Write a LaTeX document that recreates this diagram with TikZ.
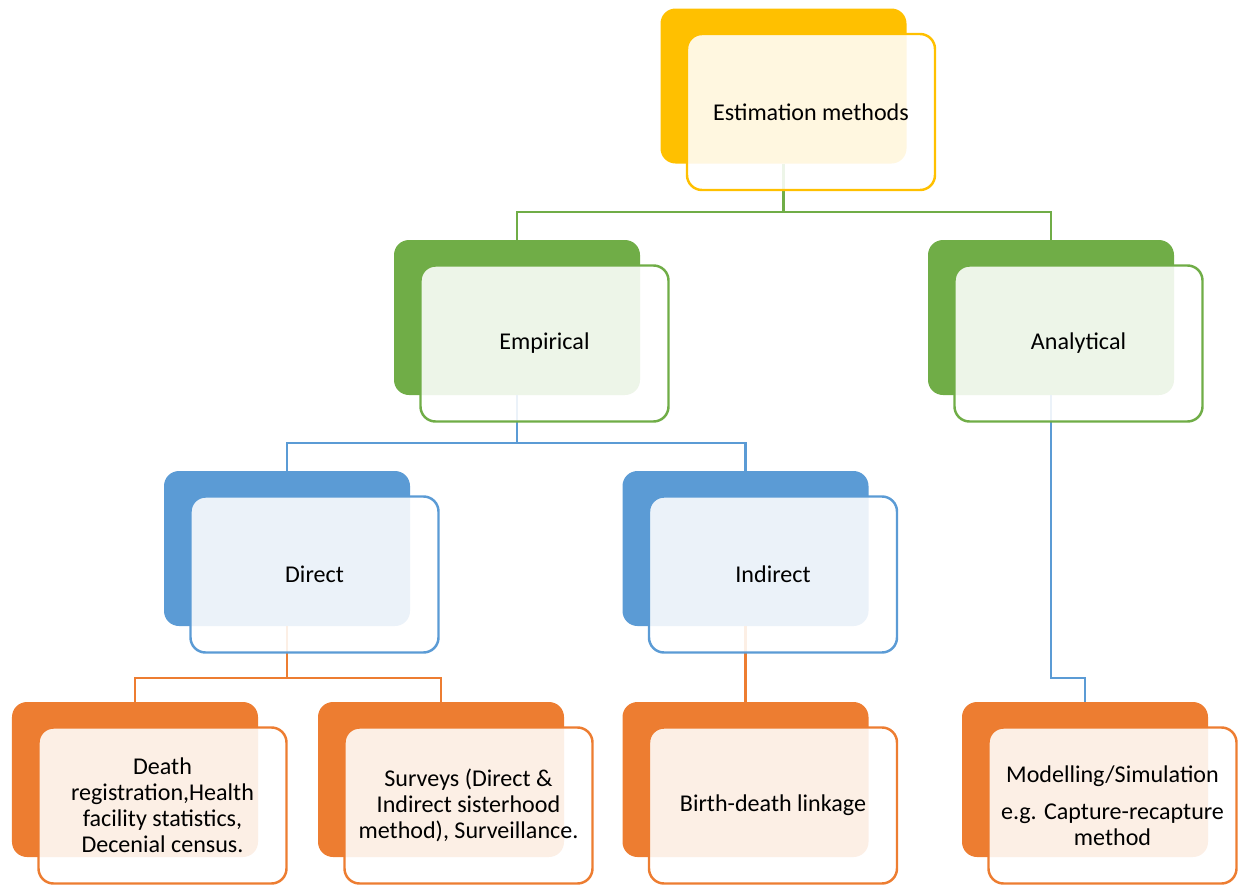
\documentclass[tikz,border=0pt]{standalone}
\usepackage{fontspec}
\setmainfont{Carlito}
\usepackage{xcolor}
\usetikzlibrary{positioning, calc}

\definecolor{gold}{HTML}{FFC000}
\definecolor{leaf}{HTML}{70AD47}
\definecolor{sky}{HTML}{5B9BD5}
\definecolor{rust}{HTML}{ED7D31}

\begin{document}
\begin{tikzpicture}[
    back/.style={rounded corners=0.3cm, minimum width=4.92cm,
                 minimum height=3.1cm, inner sep=0pt},
    front/.style={draw=#1, line width=1.4pt, rounded corners=0.3cm,
                  fill=white, fill opacity=0.88, text opacity=1,
                  minimum width=4.96cm, minimum height=3.12cm,
                  align=center, xshift=0.55cm, yshift=-0.52cm,
                  font=\fontsize{13.7}{14.8}\selectfont},
    link/.style={draw=#1, line width=1.3pt}
  ]
  \useasboundingbox (0,0) rectangle (24.76,-17.72);

  % coloured back panels
  \node[back, fill=gold] (est) at (15.67,-1.72)  {};
  \node[back, fill=leaf] (emp) at (10.34,-6.35)  {};
  \node[back, fill=leaf] (ana) at (21.02,-6.35)  {};
  \node[back, fill=sky]  (dir) at (5.74,-10.97)  {};
  \node[back, fill=sky]  (ind) at (14.91,-10.97) {};
  \node[back, fill=rust] (dea) at (2.70,-15.59)  {};
  \node[back, fill=rust] (sur) at (8.82,-15.59)  {};
  \node[back, fill=rust] (bir) at (14.91,-15.59) {};
  \node[back, fill=rust] (mod) at (21.70,-15.59) {};

  % connectors
  \draw[link=leaf] (est.south) |- ($(emp.north)+(0,0.56)$) -- (emp.north);
  \draw[link=leaf] (est.south) |- ($(ana.north)+(0,0.56)$) -- (ana.north);
  \draw[link=sky]  (emp.south) |- ($(dir.north)+(0,0.56)$) -- (dir.north);
  \draw[link=sky]  (emp.south) |- ($(ind.north)+(0,0.56)$) -- (ind.north);
  \draw[link=sky]  (ana.south) |- ($(mod.north)+(0,0.48)$) -- (mod.north);
  \draw[link=rust] (dir.south) |- ($(dea.north)+(0,0.48)$) -- (dea.north);
  \draw[link=rust] (dir.south) |- ($(sur.north)+(0,0.48)$) -- (sur.north);
  \draw[link=rust] (ind.south) -- (bir.north);

  % text panels
  \node[front=gold] (estT) at (est) {Estimation methods};
  \node[front=leaf] (empT) at (emp) {Empirical};
  \node[front=leaf] (anaT) at (ana) {Analytical};
  \node[front=sky]  (dirT) at (dir) {Direct};
  \node[front=sky]  (indT) at (ind) {Indirect};
  \node[front=rust] (deaT) at (dea)
    {Death\\registration,Health\\facility statistics,\\Decenial census.};
  \node[front=rust] (surT) at (sur)
    {Surveys (Direct \&\\Indirect sisterhood\\method), Surveillance.};
  \node[front=rust] (birT) at (bir) {Birth-death linkage};
  \node[front=rust] (modT) at (mod)
    {Modelling/Simulation\\[6pt]e.g. Capture-recapture\\method};
\end{tikzpicture}
\end{document}
